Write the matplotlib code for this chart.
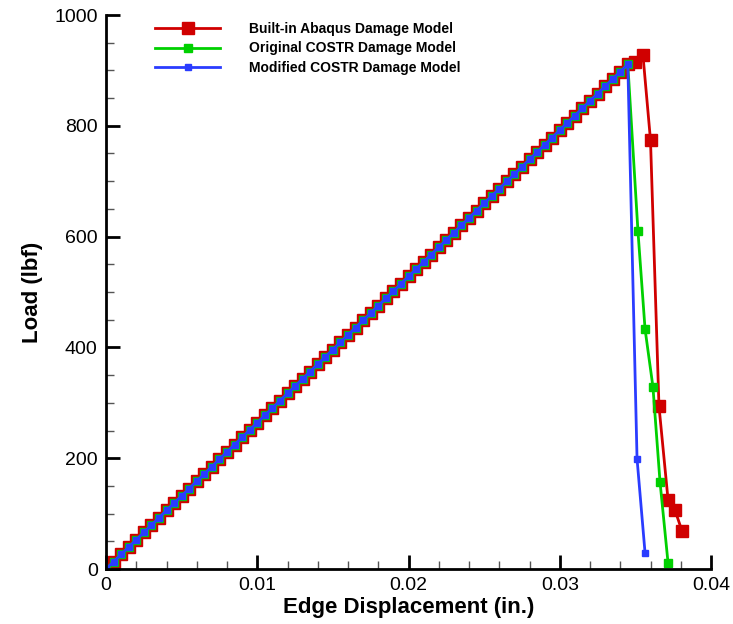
import matplotlib
matplotlib.use('Agg')
import matplotlib.pyplot as plt
from matplotlib.ticker import MultipleLocator

plt.rcParams['font.family'] = ['Liberation Sans', 'DejaVu Sans']

# linear (elastic) part, shared by all three models
disp_lin = [0.0000, 0.0005, 0.0010, 0.0015, 0.0020, 0.0025, 0.0030, 0.0035, 0.0040, 0.0045,
            0.0050, 0.0055, 0.0060, 0.0065, 0.0070, 0.0075, 0.0080, 0.0085, 0.0090, 0.0095,
            0.0100, 0.0105, 0.0110, 0.0115, 0.0120, 0.0125, 0.0130, 0.0135, 0.0140, 0.0145,
            0.0150, 0.0155, 0.0160, 0.0165, 0.0170, 0.0175, 0.0180, 0.0185, 0.0190, 0.0195,
            0.0200, 0.0205, 0.0210, 0.0215, 0.0220, 0.0225, 0.0230, 0.0235, 0.0240, 0.0245,
            0.0250, 0.0255, 0.0260, 0.0265, 0.0270, 0.0275, 0.0280, 0.0285, 0.0290, 0.0295,
            0.0300, 0.0305, 0.0310, 0.0315, 0.0320, 0.0325, 0.0330, 0.0335, 0.0340, 0.0345]
load_lin = [0.0, 13.2, 26.4, 39.6, 52.8, 66.0, 79.2, 92.4, 105.6, 118.8,
            132.0, 145.2, 158.4, 171.6, 184.8, 198.0, 211.2, 224.4, 237.6, 250.8,
            264.0, 277.2, 290.4, 303.6, 316.8, 330.0, 343.2, 356.4, 369.6, 382.8,
            396.0, 409.2, 422.4, 435.6, 448.8, 462.0, 475.2, 488.4, 501.6, 514.8,
            528.0, 541.2, 554.4, 567.6, 580.8, 594.0, 607.2, 620.4, 633.6, 646.8,
            660.0, 673.2, 686.4, 699.6, 712.8, 726.0, 739.2, 752.4, 765.6, 778.8,
            792.0, 805.2, 818.4, 831.6, 844.8, 858.0, 871.2, 884.4, 897.6, 910.8]

# softening / failure parts
disp_abaqus = [0.0350, 0.0355, 0.0360, 0.03656, 0.03716, 0.03762, 0.03808]
load_abaqus = [915, 928, 774, 294, 125, 106, 69]

disp_costr = [0.03517, 0.03564, 0.03616, 0.03663, 0.03716]
load_costr = [610, 433, 329, 157, 11]

disp_mod = [0.03511, 0.03564]
load_mod = [199, 29]

xtick_labels = ['0', '0.01', '0.02', '0.03', '0.04']

fig = plt.figure(figsize=(7.33, 6.24), dpi=100)
ax = fig.add_axes([106/733., 1 - 569/624., 605/733., 554/624.])

ax.plot(disp_lin + disp_abaqus, load_lin + load_abaqus, color='#d00000', lw=2,
        marker='s', ms=9, label='Built-in Abaqus Damage Model')
ax.plot(disp_lin + disp_costr, load_lin + load_costr, color='#00d000', lw=2,
        marker='s', ms=5.5, label='Original COSTR Damage Model')
ax.plot(disp_lin + disp_mod, load_lin + load_mod, color='#2a3cff', lw=2,
        marker='s', ms=5, label='Modified COSTR Damage Model')

ax.set_xlim(0, 0.04)
ax.set_ylim(0, 1000)
ax.set_xticks([0, 0.01, 0.02, 0.03, 0.04])
ax.set_xticklabels(xtick_labels)
ax.xaxis.set_minor_locator(MultipleLocator(0.002))
ax.yaxis.set_major_locator(MultipleLocator(200))
ax.yaxis.set_minor_locator(MultipleLocator(50))

for s in ['top', 'right']:
    ax.spines[s].set_visible(False)
for s in ['left', 'bottom']:
    ax.spines[s].set_linewidth(2)
ax.tick_params(which='major', direction='in', length=10, width=2, labelsize=14)
ax.tick_params(axis='x', which='major', pad=6)
ax.tick_params(axis='y', which='major', pad=6)
ax.tick_params(which='minor', direction='in', length=6, width=1, color='#555555')

ax.set_xlabel('Edge Displacement (in.)', fontsize=16, fontweight='bold', labelpad=2)
ax.set_ylabel('Load (lbf)', fontsize=16, fontweight='bold', labelpad=8)

ax.legend(loc='upper left', bbox_to_anchor=(0.081, 0.988), frameon=False,
          prop={'weight': 'bold', 'size': 10}, borderpad=0, borderaxespad=0,
          handlelength=4.7, handletextpad=2.1, labelspacing=0.42)

fig.savefig('out.png', dpi=100)
